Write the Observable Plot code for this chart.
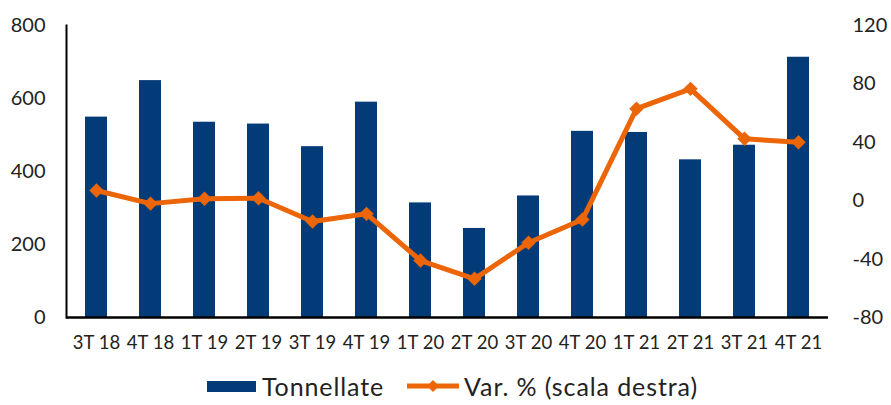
<!DOCTYPE html>
<html>
<head>
<meta charset="utf-8">
<script src="https://cdn.jsdelivr.net/npm/d3@7"></script>
<script src="https://cdn.jsdelivr.net/npm/@observablehq/plot@0.6"></script>
<style>
  html, body { margin: 0; padding: 0; background: #fff; }
  body { width: 891px; height: 405px; overflow: hidden; font-family: Lato, "Open Sans", sans-serif; }
  #legend { display: flex; justify-content: center; align-items: center; font-size: 25px; line-height: 30px; letter-spacing: 0.9px; color: #222; height: 34px; margin-top: 4px; margin-left: 14px; }
  .item { display: flex; align-items: center; }
  .sw-bar { width: 49px; height: 11px; background: #033b78; margin-right: 6px; }
  .sw-line { width: 52px; height: 14px; margin-right: 5px; }
</style>
</head>
<body>
<div id="chart"></div>
<div id="legend">
  <div class="item" style="margin-right:23px"><div class="sw-bar"></div><span>Tonnellate</span></div>
  <div class="item"><svg class="sw-line" viewBox="0 0 52 14"><line x1="0" y1="7" x2="52" y2="7" stroke="#ec6608" stroke-width="5"/><path d="M26,1 L32,7 L26,13 L20,7Z" fill="#ec6608"/></svg><span>Var. % (scala destra)</span></div>
</div>
<script>
const categories = ["3T 18","4T 18","1T 19","2T 19","3T 19","4T 19","1T 20","2T 20","3T 20","4T 20","1T 21","2T 21","3T 21","4T 21"];
const tonnellate = [549, 649, 535, 530, 468, 590, 314, 244, 333, 510, 507, 432, 472, 713];
const varPct = [7, -2, 1.3, 1.7, -14.3, -9, -41, -53.5, -28.8, -12.9, 63, 76.6, 42.4, 40];
const leftTicks = [0, 200, 400, 600, 800];
const rightTicks = [-80, -40, 0, 40, 80, 120];

const data = categories.map((c, i) => ({cat: c, t: tonnellate[i], v: varPct[i]}));
// right scale [-80,120] mapped onto left scale [0,800]
const toLeft = v => (v + 80) * 4;

const chart = Plot.plot({
  width: 891,
  height: 365,
  marginLeft: 66,
  marginRight: 63,
  marginTop: 25,
  marginBottom: 48,
  style: {fontFamily: "Lato, 'Open Sans', sans-serif", color: "#222", background: "#fff"},
  x: {domain: categories, paddingInner: 0.6, paddingOuter: 0.3, label: null},
  y: {domain: [0, 800], label: null},
  marks: [
    Plot.barY(data, {x: "cat", y: "t", fill: "#033b78"}),
    Plot.axisY(leftTicks, {anchor: "left", tickSize: 0, tickPadding: 21, fontSize: 20, label: null}),
    Plot.axisY(rightTicks.map(toLeft), {anchor: "right", tickSize: 0, tickPadding: 24, fontSize: 20, label: null, tickFormat: d => String(d / 4 - 80)}),
    Plot.axisX({tickSize: 0, tickPadding: 18, fontSize: 18.5, label: null}),
    Plot.frame({anchor: "left", stroke: "#000", strokeWidth: 2}),
    Plot.ruleY([0], {stroke: "#000", strokeWidth: 2.5}),
    Plot.line(data, {x: "cat", y: d => toLeft(d.v), stroke: "#ec6608", strokeWidth: 5, strokeLinejoin: "round"}),
    Plot.dot(data, {x: "cat", y: d => toLeft(d.v), symbol: "diamond2", r: 6.5, fill: "#ec6608", stroke: "none"})
  ]
});
document.getElementById("chart").appendChild(chart);
</script>
</body>
</html>
